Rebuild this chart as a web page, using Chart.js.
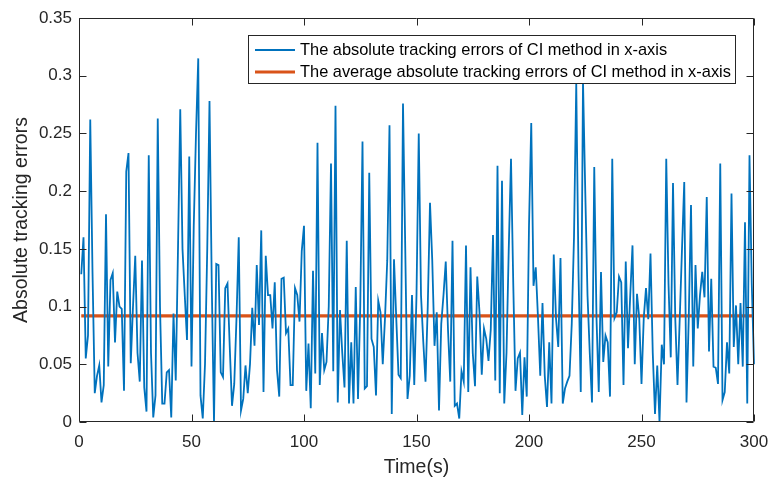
<!DOCTYPE html>
<html><head><meta charset="utf-8">
<script src="https://cdn.jsdelivr.net/npm/chart.js@4"></script>
<style>html,body{margin:0;padding:0;background:#fff}#wrap{width:769px;height:479px;position:relative}</style>
</head><body><div id="wrap"><canvas id="c"></canvas></div>
<script>
// Absolute tracking errors of CI method in x-axis, one sample per second (t = 1..300)
const errors = [
0.128,0.160,0.055,0.075,0.262,0.130,0.025,0.040,0.049,0.017,
0.032,0.180,0.048,0.123,0.129,0.069,0.113,0.100,0.098,0.027,
0.217,0.233,0.051,0.100,0.144,0.060,0.035,0.140,0.030,0.009,
0.231,0.060,0.004,0.023,0.263,0.100,0.016,0.016,0.043,0.045,
0.004,0.094,0.036,0.150,0.271,0.150,0.110,0.071,0.230,0.048,
0.170,0.250,0.315,0.023,0.003,0.050,0.150,0.278,0.120,0.000,
0.137,0.136,0.043,0.039,0.116,0.120,0.065,0.014,0.033,0.090,
0.160,0.010,0.020,0.049,0.025,0.050,0.099,0.066,0.136,0.084,
0.166,0.026,0.144,0.110,0.110,0.081,0.121,0.045,0.022,0.124,
0.125,0.077,0.081,0.032,0.032,0.116,0.110,0.087,0.148,0.170,
0.027,0.068,0.012,0.131,0.042,0.242,0.032,0.077,0.045,0.052,
0.100,0.224,0.044,0.274,0.017,0.097,0.060,0.030,0.157,0.016,
0.069,0.016,0.117,0.020,0.100,0.243,0.029,0.031,0.216,0.072,
0.065,0.023,0.105,0.095,0.050,0.090,0.140,0.257,0.007,0.141,
0.090,0.041,0.038,0.276,0.150,0.020,0.040,0.110,0.032,0.110,
0.250,0.110,0.070,0.035,0.100,0.190,0.140,0.066,0.095,0.010,
0.085,0.110,0.139,0.080,0.035,0.157,0.014,0.016,0.003,0.044,
0.035,0.153,0.026,0.134,0.060,0.031,0.126,0.095,0.041,0.081,
0.072,0.053,0.080,0.162,0.036,0.222,0.025,0.209,0.016,0.060,
0.150,0.228,0.120,0.027,0.055,0.060,0.006,0.056,0.022,0.170,
0.259,0.118,0.134,0.090,0.040,0.103,0.040,0.013,0.069,0.016,
0.145,0.090,0.065,0.142,0.016,0.029,0.035,0.040,0.085,0.160,
0.293,0.130,0.026,0.295,0.200,0.110,0.060,0.017,0.221,0.090,
0.026,0.130,0.052,0.075,0.069,0.022,0.228,0.090,0.095,0.126,
0.121,0.032,0.139,0.064,0.110,0.153,0.050,0.111,0.090,0.033,
0.090,0.116,0.089,0.146,0.060,0.007,0.049,0.000,0.067,0.050,
0.228,0.120,0.056,0.207,0.090,0.032,0.090,0.150,0.208,0.017,
0.090,0.188,0.048,0.136,0.081,0.110,0.130,0.108,0.195,0.061,
0.124,0.048,0.047,0.033,0.224,0.019,0.026,0.069,0.042,0.198,
0.065,0.101,0.050,0.103,0.048,0.173,0.016,0.231,0.120,0.050
];
const startTime = 1;
const endTime = 300;
const averageError = 0.092;
const xTicks = [0, 50, 100, 150, 200, 250, 300];
const yTicks = [0, 0.05, 0.1, 0.15, 0.2, 0.25, 0.3, 0.35];
const seriesLabels = [
  'The absolute tracking errors of CI method in x-axis',
  'The average absolute tracking errors of CI method in x-axis'
];
const xTitle = 'Time(s)';
const yTitle = 'Absolute tracking errors';

const AXIS = '#262626';
const BLUE = '#0072BD';
const ORANGE = '#D95319';
const FONT = '"Liberation Sans", Arial, Helvetica, sans-serif';

const errorPoints = errors.map((v, i) => ({x: startTime + i, y: v}));
const avgPoints = [{x: startTime, y: averageError}, {x: endTime, y: averageError}];

const frameTicks = {
  id: 'frameTicks',
  afterDatasetsDraw(chart) {
    const {ctx, chartArea: a, scales: {x, y}} = chart;
    const L = 7;
    ctx.save();
    ctx.strokeStyle = AXIS;
    ctx.lineWidth = 1;
    ctx.beginPath();
    const l = Math.round(a.left) + 0.5, r = Math.round(a.right) - 0.5;
    const t = Math.round(a.top) + 0.5, b = Math.round(a.bottom) - 0.5;
    ctx.rect(l, t, r - l, b - t);
    x.ticks.forEach(tk => {
      const px = Math.round(x.getPixelForValue(tk.value)) + 0.5;
      ctx.moveTo(px, b); ctx.lineTo(px, b - L);
      ctx.moveTo(px, t); ctx.lineTo(px, t + L);
    });
    y.ticks.forEach(tk => {
      const py = Math.round(y.getPixelForValue(tk.value)) + 0.5;
      ctx.moveTo(l, py); ctx.lineTo(l + L, py);
      ctx.moveTo(r, py); ctx.lineTo(r - L, py);
    });
    ctx.stroke();
    ctx.restore();
  }
};

const boxLegend = {
  id: 'boxLegend',
  afterDraw(chart) {
    const {ctx} = chart;
    const bx = 248.5, by = 35.5, bw = 487, bh = 48;
    ctx.save();
    ctx.fillStyle = '#ffffff';
    ctx.fillRect(bx, by, bw, bh);
    ctx.strokeStyle = AXIS;
    ctx.lineWidth = 1;
    ctx.strokeRect(bx, by, bw, bh);
    const rows = [50, 72];
    chart.data.datasets.forEach((ds, i) => {
      const yy = rows[i];
      ctx.strokeStyle = ds.borderColor;
      ctx.lineWidth = ds.borderWidth;
      ctx.beginPath();
      ctx.moveTo(255, yy); ctx.lineTo(295, yy);
      ctx.stroke();
      ctx.fillStyle = '#000000';
      ctx.font = '16.4px ' + FONT;
      ctx.textBaseline = 'middle';
      ctx.textAlign = 'left';
      ctx.fillText(ds.label, 300, yy + 0.5);
    });
    ctx.restore();
  }
};

new Chart(document.getElementById('c'), {
  type: 'line',
  data: {
    datasets: [
      {label: seriesLabels[0], data: errorPoints, borderColor: BLUE, borderWidth: 1.8,
       pointRadius: 0, tension: 0, fill: false, clip: 3},
      {label: seriesLabels[1], data: avgPoints, borderColor: ORANGE, borderWidth: 3.2,
       pointRadius: 0, tension: 0, fill: false, clip: 3}
    ]
  },
  options: {
    responsive: true,
    maintainAspectRatio: false,
    animation: false,
    events: [],
    layout: {padding: {left: 8, top: 18, right: 15, bottom: 0}},
    plugins: {legend: {display: false}, tooltip: {enabled: false}},
    scales: {
      x: {
        type: 'linear', min: 0, max: 300,
        afterBuildTicks(s) { s.ticks = xTicks.map(v => ({value: v})); },
        afterFit(s) { s.height = 57; s.paddingLeft = 0; s.paddingRight = 0; },
        grid: {display: false, drawTicks: false},
        border: {display: false},
        ticks: {color: AXIS, font: {size: 17, family: FONT}, padding: 10, maxRotation: 0,
                callback: v => String(v)},
        title: {display: true, text: xTitle, color: AXIS, font: {size: 19.5, family: FONT, lineHeight: 1.2},
                padding: {top: 0, bottom: 0}}
      },
      y: {
        type: 'linear', min: 0, max: 0.35,
        afterBuildTicks(s) { s.ticks = yTicks.map(v => ({value: v})); },
        afterFit(s) { s.width = 71; s.paddingTop = 0; s.paddingBottom = 0; },
        grid: {display: false, drawTicks: false},
        border: {display: false},
        ticks: {color: AXIS, font: {size: 17, family: FONT}, padding: 7,
                callback: v => String(+v.toFixed(2))},
        title: {display: true, text: yTitle, color: AXIS, font: {size: 19.5, family: FONT, lineHeight: 1.2},
                padding: {top: 2, bottom: 0}}
      }
    }
  },
  plugins: [frameTicks, boxLegend]
});
</script>
</body></html>
